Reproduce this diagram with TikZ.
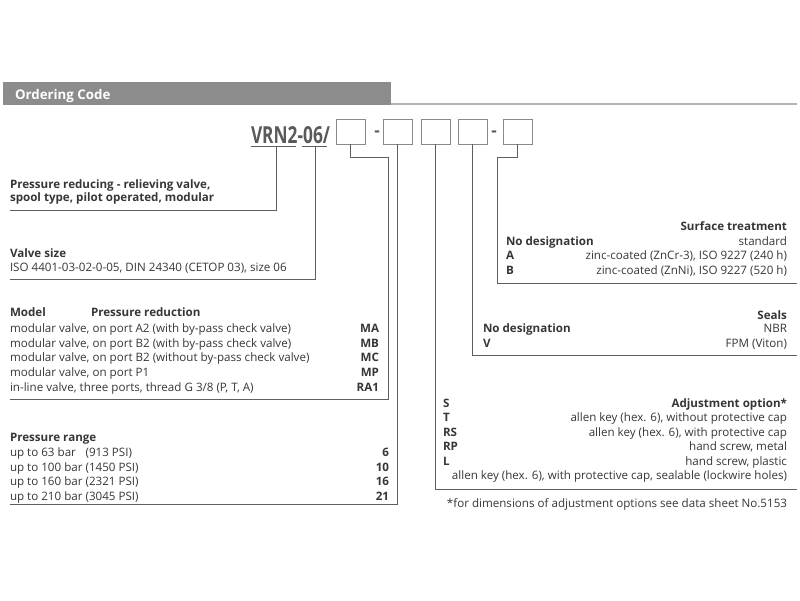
\documentclass[tikz,border=0pt]{standalone}
\usepackage{fontspec}
\usepackage{graphicx}
\setmainfont{Open Sans}
\definecolor{txt}{HTML}{363636}
\definecolor{ln}{HTML}{5E5E5E}
\definecolor{hdr}{HTML}{8C8C8C}
\definecolor{hdrline}{HTML}{B2B2B2}
\definecolor{boxc}{HTML}{8A8A8A}
\definecolor{title}{HTML}{5A5A5A}
\begin{document}
\begin{tikzpicture}[x=1pt,y=-1pt,
 every node/.style={inner sep=0pt, outer sep=0pt, text=txt, font=\fontsize{11.6}{13}\selectfont},
 lt/.style={anchor=base west},
 rt/.style={anchor=base east},
 bt/.style={font=\fontsize{11.6}{13}\selectfont\bfseries},
 conn/.style={draw=ln, line width=0.9pt},
 codebox/.style={draw=boxc, line width=0.8pt, minimum width=29pt, minimum height=25pt, anchor=north west},
 dashtxt/.style={text=title, font=\fontsize{17}{17}\selectfont\bfseries, anchor=center}
]
\useasboundingbox (0,0) rectangle (800,600);
% header
\fill[hdr] (3,82) rectangle (391,105);
\draw[hdrline, line width=2pt] (391,104) -- (797,104);
\node[lt, text=white, font=\fontsize{13.3}{14}\selectfont\bfseries] (hd) at (15,99) {Ordering Code};
% title and boxes
\node[anchor=base west, text=title] (ttl) at (251,143) {\resizebox{79pt}{17pt}{\bfseries VRN2-06/}};
\node[codebox] (b1) at (336,119) {};
\node[dashtxt] (d1) at (377,134) {-};
\node[codebox] (b2) at (383,119) {};
\node[codebox] (b3) at (421,119) {};
\node[codebox] (b4) at (458,119) {};
\node[dashtxt] (d2) at (494,134) {-};
\node[codebox] (b5) at (503,119) {};
\coordinate (u1l) at (251,146); \coordinate (u1r) at (296,146);
\coordinate (u2l) at (302,146); \coordinate (u2r) at (327,146);
\draw[conn] (u1l) -- (u1r);
\draw[conn] (u2l) -- (u2r);
\coordinate (u1) at (276,146); \coordinate (u2) at (315,146);
\coordinate (e1) at (10,210); \coordinate (e2) at (10,279);
\coordinate (e3) at (10,399); \coordinate (e4) at (10,504);
\coordinate (k1) at (388,157); \coordinate (k5) at (497,157);
\coordinate (e5) at (797,489); \coordinate (e6) at (797,355); \coordinate (e7) at (797,283);
\draw[conn] (u1) |- (e1);
\draw[conn] (u2) |- (e2);
\draw[conn] (b1.south) |- (k1) |- (e3);
\draw[conn] (b2.south) |- (e4);
\draw[conn] (b3.south) |- (e5);
\draw[conn] (b4.south) |- (e6);
\draw[conn] (b5.south) |- (k5) |- (e7);
% block 1
\node[lt,bt] (t1a) at (10,188) {Pressure reducing - relieving valve,};
\node[lt,bt] (t1b) at (10,201) {spool type, pilot operated, modular};
% block 2
\node[lt,bt] (t2a) at (10,257) {Valve size};
\node[lt] (t2b) at (10,271) {ISO 4401-03-02-0-05, DIN 24340 (CETOP 03), size 06};
% block 3
\node[lt,bt] (m0) at (10,316) {Model};
\node[lt,bt] (m0b) at (91,316) {Pressure reduction};
\node[lt] (m1) at (10,332) {modular valve, on port A2 (with by-pass check valve)};
\node[rt,bt] (c1) at (379,332) {MA};
\node[lt] (m2) at (10,347) {modular valve, on port B2 (with by-pass check valve)};
\node[rt,bt] (c2) at (379,347) {MB};
\node[lt] (m3) at (10,361) {modular valve, on port B2 (without by-pass check valve)};
\node[rt,bt] (c3) at (379,361) {MC};
\node[lt] (m4) at (10,376) {modular valve, on port P1};
\node[rt,bt] (c4) at (379,376) {MP};
\node[lt] (m5) at (10,391) {in-line valve, three ports, thread G 3/8 (P, T, A)};
\node[rt,bt] (c5) at (379,391) {RA1};
% block 4
\node[lt,bt] (p0) at (10,441) {Pressure range};
\node[lt] (p1) at (10,456.5) {up to 63 bar\hphantom{0} (913 PSI)};
\node[rt,bt] (q1) at (389,456.5) {6};
\node[lt] (p2) at (10,471) {up to 100 bar (1450 PSI)};
\node[rt,bt] (q2) at (389,471) {10};
\node[lt] (p3) at (10,485.5) {up to 160 bar (2321 PSI)};
\node[rt,bt] (q3) at (389,485.5) {16};
\node[lt] (p4) at (10,500) {up to 210 bar (3045 PSI)};
\node[rt,bt] (q4) at (389,500) {21};
% surface treatment
\node[rt,bt] (s0) at (787,230) {Surface treatment};
\node[lt,bt] (s1) at (506,245) {No designation};
\node[rt] (s1d) at (787,245) {standard};
\node[lt,bt] (s2) at (506,259.5) {A};
\node[rt] (s2d) at (787,259.5) {zinc-coated (ZnCr-3), ISO 9227 (240 h)};
\node[lt,bt] (s3) at (506,274) {B};
\node[rt] (s3d) at (787,274) {zinc-coated (ZnNi), ISO 9227 (520 h)};
% seals
\node[rt,bt] (g0) at (787,319) {Seals};
\node[lt,bt] (g1) at (483,332.5) {No designation};
\node[rt] (g1d) at (787,332.5) {NBR};
\node[lt,bt] (g2) at (483,347) {V};
\node[rt] (g2d) at (787,347) {FPM (Viton)};
% adjustment
\node[lt,bt] (a1) at (443,407) {S};
\node[rt,bt] (a0) at (787,407) {Adjustment option*};
\node[lt,bt] (a2) at (443,421.5) {T};
\node[rt] (a2d) at (787,421.5) {allen key (hex. 6), without protective cap};
\node[lt,bt] (a3) at (443,436) {RS};
\node[rt] (a3d) at (787,436) {allen key (hex. 6), with protective cap};
\node[lt,bt] (a4) at (443,450.5) {RP};
\node[rt] (a4d) at (787,450.5) {hand screw, metal};
\node[lt,bt] (a5) at (443,465) {L};
\node[rt] (a5d) at (787,465) {hand screw, plastic};
\node[rt] (a6d) at (787,479.5) {allen key (hex. 6), with protective cap, sealable (lockwire holes)};
\node[rt] (fn) at (787,507) {*for dimensions of adjustment options see data sheet No.5153};
\end{tikzpicture}
\end{document}
